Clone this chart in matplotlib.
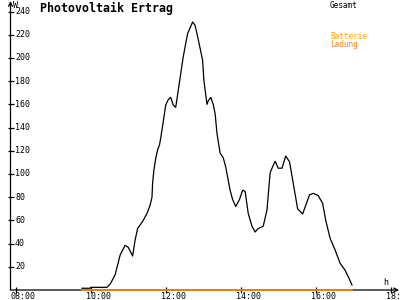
import matplotlib

matplotlib.use("Agg")
import matplotlib.pyplot as plt
import matplotlib.transforms as mtransforms

# readings of the day (time, watts)
times = ["09:46", "09:59", "10:00", "10:26", "10:31", "10:39", "10:47", "10:55",
         "11:00", "11:07", "11:11", "11:15", "11:19", "11:24", "11:30", "11:35",
         "11:38", "11:39", "11:41", "11:44", "11:47", "11:50", "11:52", "11:56",
         "12:00", "12:04", "12:08", "12:12", "12:16", "12:20", "12:28", "12:35",
         "12:43", "12:47", "12:52", "12:59", "13:01", "13:06", "13:08", "13:12",
         "13:16", "13:19", "13:22", "13:27", "13:32", "13:36", "13:43", "13:47",
         "13:52", "13:58", "14:03", "14:07", "14:12", "14:18", "14:23", "14:28",
         "14:36", "14:42", "14:47", "14:50", "14:55", "15:00", "15:06", "15:12",
         "15:18", "15:24", "15:31", "15:39", "15:44", "15:50", "15:56", "16:04",
         "16:11", "16:16", "16:23", "16:31", "16:39", "16:47", "16:52", "16:58"]
watts = [1.5, 1.5, 2.3, 2.3, 5, 13, 30, 38.5,
         36.8, 29.3, 43, 53, 56, 60, 66, 73,
         80, 92, 103, 113.5, 120.7, 125, 131, 145,
         159.5, 164, 166, 159.5, 157.5, 172, 201, 221,
         231, 228, 216, 198, 181, 160, 163, 166,
         160, 152, 135, 118, 114, 106, 86, 78,
         72, 78, 86, 85, 66, 55, 50, 53,
         55, 69, 101, 105, 111, 105, 105, 115.5,
         110.6, 92, 70, 65.5, 73, 82, 83.3, 81.3,
         74.7, 60, 44.6, 34.5, 23, 17, 11.5, 4.3]
charge_times = ["09:46", "16:58"]
charge_watts = [0, 0]

y_ticks = list(range(20, 241, 20))
x_ticks = [8, 10, 12, 14, 16, 18]

MONO = "DejaVu Sans Mono"
W, H = 400, 300


def hours(t):
    h, m = t.split(":")
    return int(h) + int(m) / 60


fig = plt.figure(figsize=(W / 100, H / 100), dpi=100)
ax = fig.add_axes([10.5 / W, 10 / H, 388.5 / W, 289 / H])
ax.set_xlim(7.861, 18.22)
ax.set_ylim(0, 249.1)
for s in ax.spines.values():
    s.set_visible(False)

ax.plot([hours(t) for t in times], watts, color="black", lw=0.9)
ax.plot([hours(t) for t in charge_times], charge_watts, color="#ff8000", lw=1.3,
        zorder=5, clip_on=False)

# axes with arrow heads
arrow = dict(arrowstyle="->", lw=0.9, color="black", shrinkA=0, shrinkB=0,
             mutation_scale=7)
ax.annotate("", xy=(0, 1), xytext=(0, 0), xycoords="axes fraction", arrowprops=arrow)
ax.annotate("", xy=(1, 0), xytext=(0, 0), xycoords="axes fraction", arrowprops=arrow)

ax.set_xticks(x_ticks)
ax.set_yticks(y_ticks)
ax.tick_params(direction="inout", length=5, width=0.9, labelleft=False,
               labelbottom=False)

ytr = mtransforms.offset_copy(ax.get_yaxis_transform(), fig=fig, x=4.5, y=0, units="dots")
for v in y_ticks:
    ax.text(0, v, str(v), transform=ytr, ha="left", va="center",
            family=MONO, fontsize=6, clip_on=False)

xtr = mtransforms.offset_copy(ax.get_xaxis_transform(), fig=fig, x=-5, y=-2, units="dots")
for h in x_ticks:
    ax.text(h, 0, f"{h:02d}:00", transform=xtr, ha="left", va="top",
            family=MONO, fontsize=6, clip_on=False)

fig.text(13 / W, 1 - 5.5 / H, "W", family=MONO, fontsize=6, va="center")
fig.text(383 / W, 1 - 282.5 / H, "h", family=MONO, fontsize=6, va="center")
fig.text(40 / W, 1 - 8.5 / H, "Photovoltaik Ertrag", family=MONO, fontsize=8.4,
         fontweight="bold", va="center")
fig.text(330 / W, 1 - 5.5 / H, "Gesamt", family=MONO, fontsize=5.6, va="center")
fig.text(330 / W, 1 - 36.5 / H, "Batterie", family=MONO, fontsize=5.6,
         va="center", color="#ffa500")
fig.text(330 / W, 1 - 44 / H, "Ladung", family=MONO, fontsize=5.6,
         va="center", color="#ff8000")

fig.savefig("out.png", dpi=100)
